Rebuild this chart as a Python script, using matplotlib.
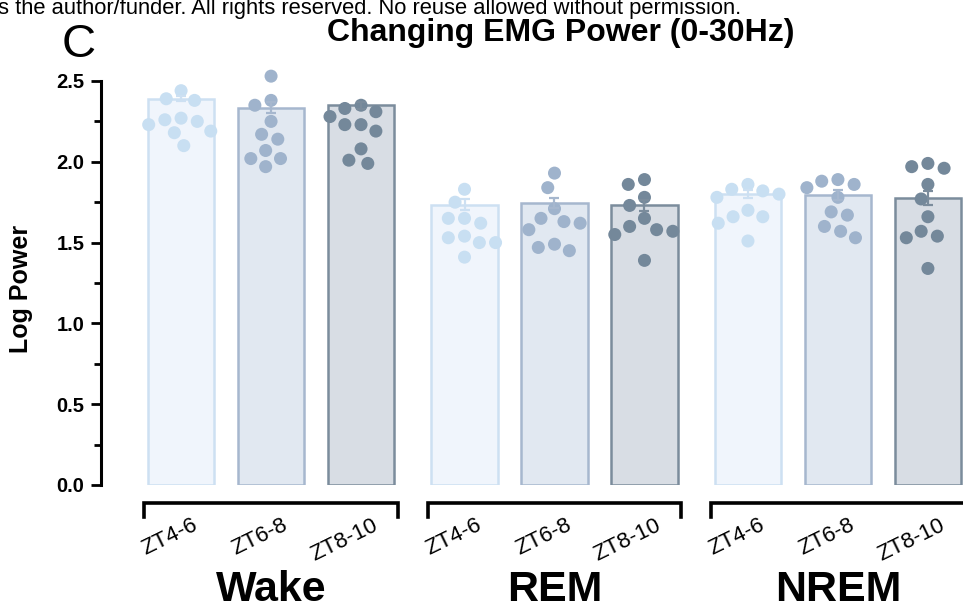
import numpy as np
import matplotlib
matplotlib.use("Agg")
import matplotlib.pyplot as plt
from matplotlib.ticker import MultipleLocator
import matplotlib.transforms as mtransforms

plt.rcParams['font.family'] = ['Liberation Sans', 'DejaVu Sans']

states = ["Wake", "REM", "NREM"]
windows = ["ZT4-6", "ZT6-8", "ZT8-10"]

# bar heights (log power) and SEM, one row per state, one column per ZT window
bar_mean = [[2.39, 2.335, 2.35],
            [1.735, 1.745, 1.73],
            [1.80, 1.795, 1.775]]
bar_sem = [[0.015, 0.035, 0.022],
           [0.035, 0.03, 0.034],
           [0.025, 0.03, 0.045]]

# individual animals
wake_zt4 = [2.44, 2.38, 2.39, 2.27, 2.26, 2.23, 2.19, 2.18, 2.10, 2.25]
wake_zt6 = [2.53, 2.35, 2.38, 2.25, 2.14, 2.17, 2.07, 2.02, 2.02, 1.97]
wake_zt8 = [2.33, 2.31, 2.35, 2.28, 2.23, 2.23, 2.19, 2.08, 2.01, 1.99]
rem_zt4 = [1.83, 1.75, 1.65, 1.62, 1.65, 1.53, 1.54, 1.50, 1.50, 1.41]
rem_zt6 = [1.93, 1.84, 1.71, 1.65, 1.58, 1.62, 1.63, 1.49, 1.45, 1.47]
rem_zt8 = [1.86, 1.89, 1.78, 1.73, 1.65, 1.58, 1.60, 1.57, 1.55, 1.39]
nrem_zt4 = [1.83, 1.78, 1.86, 1.82, 1.80, 1.70, 1.66, 1.66, 1.62, 1.51]
nrem_zt6 = [1.89, 1.88, 1.86, 1.84, 1.78, 1.67, 1.69, 1.60, 1.57, 1.53]
nrem_zt8 = [1.97, 1.99, 1.96, 1.86, 1.77, 1.66, 1.54, 1.53, 1.57, 1.34]
points = [[wake_zt4, wake_zt6, wake_zt8],
          [rem_zt4, rem_zt6, rem_zt8],
          [nrem_zt4, nrem_zt6, nrem_zt8]]

fills = ["#f0f5fc", "#e1e8f1", "#d8dde4"]
edges = ["#cde0f2", "#a6b7ce", "#7b8c9c"]
dots = ["#c8dff2", "#9fb3cc", "#74889a"]

group_gap = 3.15
bar_w = 0.74


def swarm(vals, ax, x0, diam=16.0, maxoff=0.36):
    """spread points sideways so they don't pile on top of each other"""
    vals = np.asarray(vals, float)
    p0 = ax.transData.transform((x0, 0))
    p1 = ax.transData.transform((x0 + 1, 1))
    ux, uy = p1[0] - p0[0], p1[1] - p0[1]
    cands = np.linspace(-maxoff, maxoff, 49)
    cands = cands[np.argsort(np.abs(cands), kind="stable")]
    offs = np.zeros(len(vals))
    placed = []
    for i in np.argsort(-vals, kind="stable"):
        best, bestgap = 0.0, -1.0
        for c in cands:
            g = min([np.hypot((c - px) * ux, (vals[i] - py) * uy) for px, py in placed], default=np.inf)
            if g >= diam:
                best = c
                break
            if g > bestgap:
                bestgap, best = g, c
        offs[i] = best
        placed.append((best, vals[i]))
    return offs


fig = plt.figure(figsize=(9.63, 6.07), dpi=100)
ax = fig.add_axes([101 / 963, 1 - 485 / 607, 862 / 963, 404 / 607])
ax.set_xlim(-0.89, 8.69)
ax.set_ylim(0, 2.5)

trans = mtransforms.blended_transform_factory(ax.transData, ax.transAxes)

for g, state in enumerate(states):
    xs = g * group_gap + np.arange(3)
    for k in range(3):
        x = xs[k]
        ax.bar(x, bar_mean[g][k], width=bar_w, color=fills[k], edgecolor=edges[k],
               linewidth=1.8, zorder=1)
        offs = swarm(points[g][k], ax, x)
        ax.scatter(x + offs, points[g][k], s=88, color=dots[k], edgecolor="none",
                   zorder=2, clip_on=False)
        ax.errorbar(x, bar_mean[g][k], yerr=bar_sem[g][k], fmt="none", ecolor=edges[k],
                    elinewidth=1.6, capsize=3.8, capthick=1.6, zorder=3)
        ax.text(x + 0.12, -0.074, windows[k], transform=trans, rotation=26,
                rotation_mode="anchor", ha="right", va="top", fontsize=16)
    # bracket under each group
    xl, xr = xs[0] - 0.41, xs[-1] + 0.41
    ax.plot([xl, xl, xr, xr], [-0.078, -0.045, -0.045, -0.078], color="black",
            linewidth=2.6, transform=trans, clip_on=False, solid_joinstyle="miter")
    ax.text(xs[1], -0.286, state, transform=trans, ha="center", va="baseline",
            fontsize=31, fontweight="bold")

for s in ["top", "right", "bottom"]:
    ax.spines[s].set_visible(False)
ax.spines["left"].set_linewidth(2.2)
ax.set_xticks([])
ax.yaxis.set_major_locator(MultipleLocator(0.5))
ax.yaxis.set_minor_locator(MultipleLocator(0.25))
ax.yaxis.set_major_formatter(matplotlib.ticker.FormatStrFormatter("%.1f"))
ax.tick_params(axis="y", which="major", length=7, width=2.0, pad=5, labelsize=14.5)
ax.tick_params(axis="y", which="minor", length=5, width=2.0)
for lab in ax.get_yticklabels():
    lab.set_fontweight("bold")
ax.set_ylabel("Log Power", fontsize=18, fontweight="bold")
ax.yaxis.set_label_coords((33 - 101) / 862, 0.485)

fig.text(561 / 963, 1 - 41 / 607, "Changing EMG Power (0-30Hz)", ha="center",
         va="baseline", fontsize=23, fontweight="bold")
fig.text(62 / 963, 1 - 57 / 607, "C", ha="left", va="baseline", fontsize=34)
fig.text(-0.002, 1 - 14 / 607, "s the author/funder. All rights reserved. No reuse allowed without permission.",
         ha="left", va="baseline", fontsize=15.8)

fig.savefig("out.png", dpi=100)
